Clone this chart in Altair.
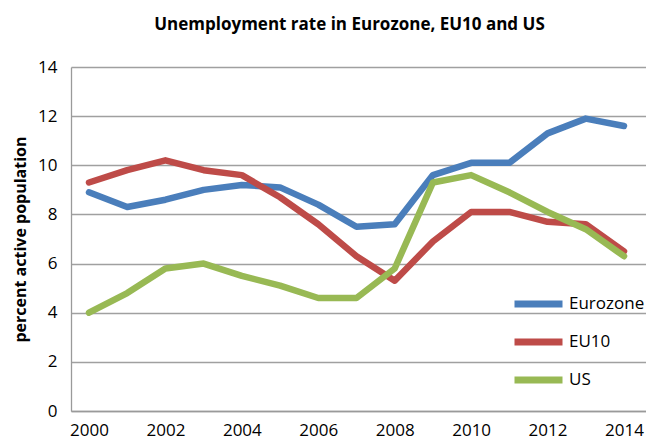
import altair as alt
import pandas as pd

years = list(range(2000, 2015))
eurozone = [8.9, 8.3, 8.6, 9.0, 9.2, 9.1, 8.4, 7.5, 7.6, 9.6, 10.1, 10.1, 11.3, 11.9, 11.6]
eu10 = [9.3, 9.8, 10.2, 9.8, 9.6, 8.7, 7.6, 6.3, 5.3, 6.9, 8.1, 8.1, 7.7, 7.6, 6.5]
us = [4.0, 4.8, 5.8, 6.0, 5.5, 5.1, 4.6, 4.6, 5.8, 9.3, 9.6, 8.9, 8.1, 7.4, 6.3]
series = ["Eurozone", "EU10", "US"]
colors = ["#4A7EBB", "#BE4B48", "#98B954"]
x_ticks = [2000, 2002, 2004, 2006, 2008, 2010, 2012, 2014]
y_ticks = [0, 2, 4, 6, 8, 10, 12, 14]

rows = []
for name, vals in zip(series, [eurozone, eu10, us]):
    for yr, v in zip(years, vals):
        rows.append({"year": yr, "rate": v, "series": name})
df = pd.DataFrame(rows)

FONT = "Open Sans"

chart = alt.Chart(df).mark_line(
    strokeWidth=6.5, strokeCap="round", strokeJoin="round"
).encode(
    x=alt.X("year:Q",
            scale=alt.Scale(domain=[1999.529, 2014.576], nice=False, zero=False),
            axis=alt.Axis(values=x_ticks, format="d", title=None, grid=False,
                          ticks=False, labelPadding=11, labelFontSize=17,
                          labelFont=FONT, labelColor="#000000",
                          domainColor="#9A9A9A", domainWidth=1.3)),
    y=alt.Y("rate:Q",
            scale=alt.Scale(domain=[0, 14], nice=False),
            axis=alt.Axis(values=y_ticks, title="percent active population",
                          titleFont=FONT, titleFontSize=16, titleFontWeight="bold",
                          titleColor="#000000", titlePadding=9,
                          ticks=False, labelPadding=14, labelFontSize=17,
                          labelFont=FONT, labelColor="#000000",
                          grid=True, gridColor="#A0A0A0", gridWidth=1.3,
                          domainColor="#9A9A9A", domainWidth=1.3)),
    color=alt.Color("series:N",
                    scale=alt.Scale(domain=series, range=colors),
                    legend=alt.Legend(title=None, orient="none",
                                      legendX=440, legendY=227,
                                      symbolType="stroke", symbolSize=2304,
                                      symbolStrokeWidth=7, clipHeight=20,
                                      rowPadding=18, labelFont=FONT,
                                      labelFontSize=17, labelColor="#000000",
                                      labelOffset=3)),
    order=alt.Order("year:Q"),
).properties(
    width=575,
    height=344,
    padding={"left": 63, "top": 59, "right": 0, "bottom": 30},
    autosize=alt.AutoSizeParams(type="none"),
    title=alt.TitleParams(text="Unemployment rate in Eurozone, EU10 and US",
                          font=FONT, fontSize=17, fontWeight="bold",
                          color="#000000", anchor="middle", offset=24, dx=-9),
).configure_view(stroke=None)

chart.save("out.html", embed_options={"renderer": "svg", "actions": False})
